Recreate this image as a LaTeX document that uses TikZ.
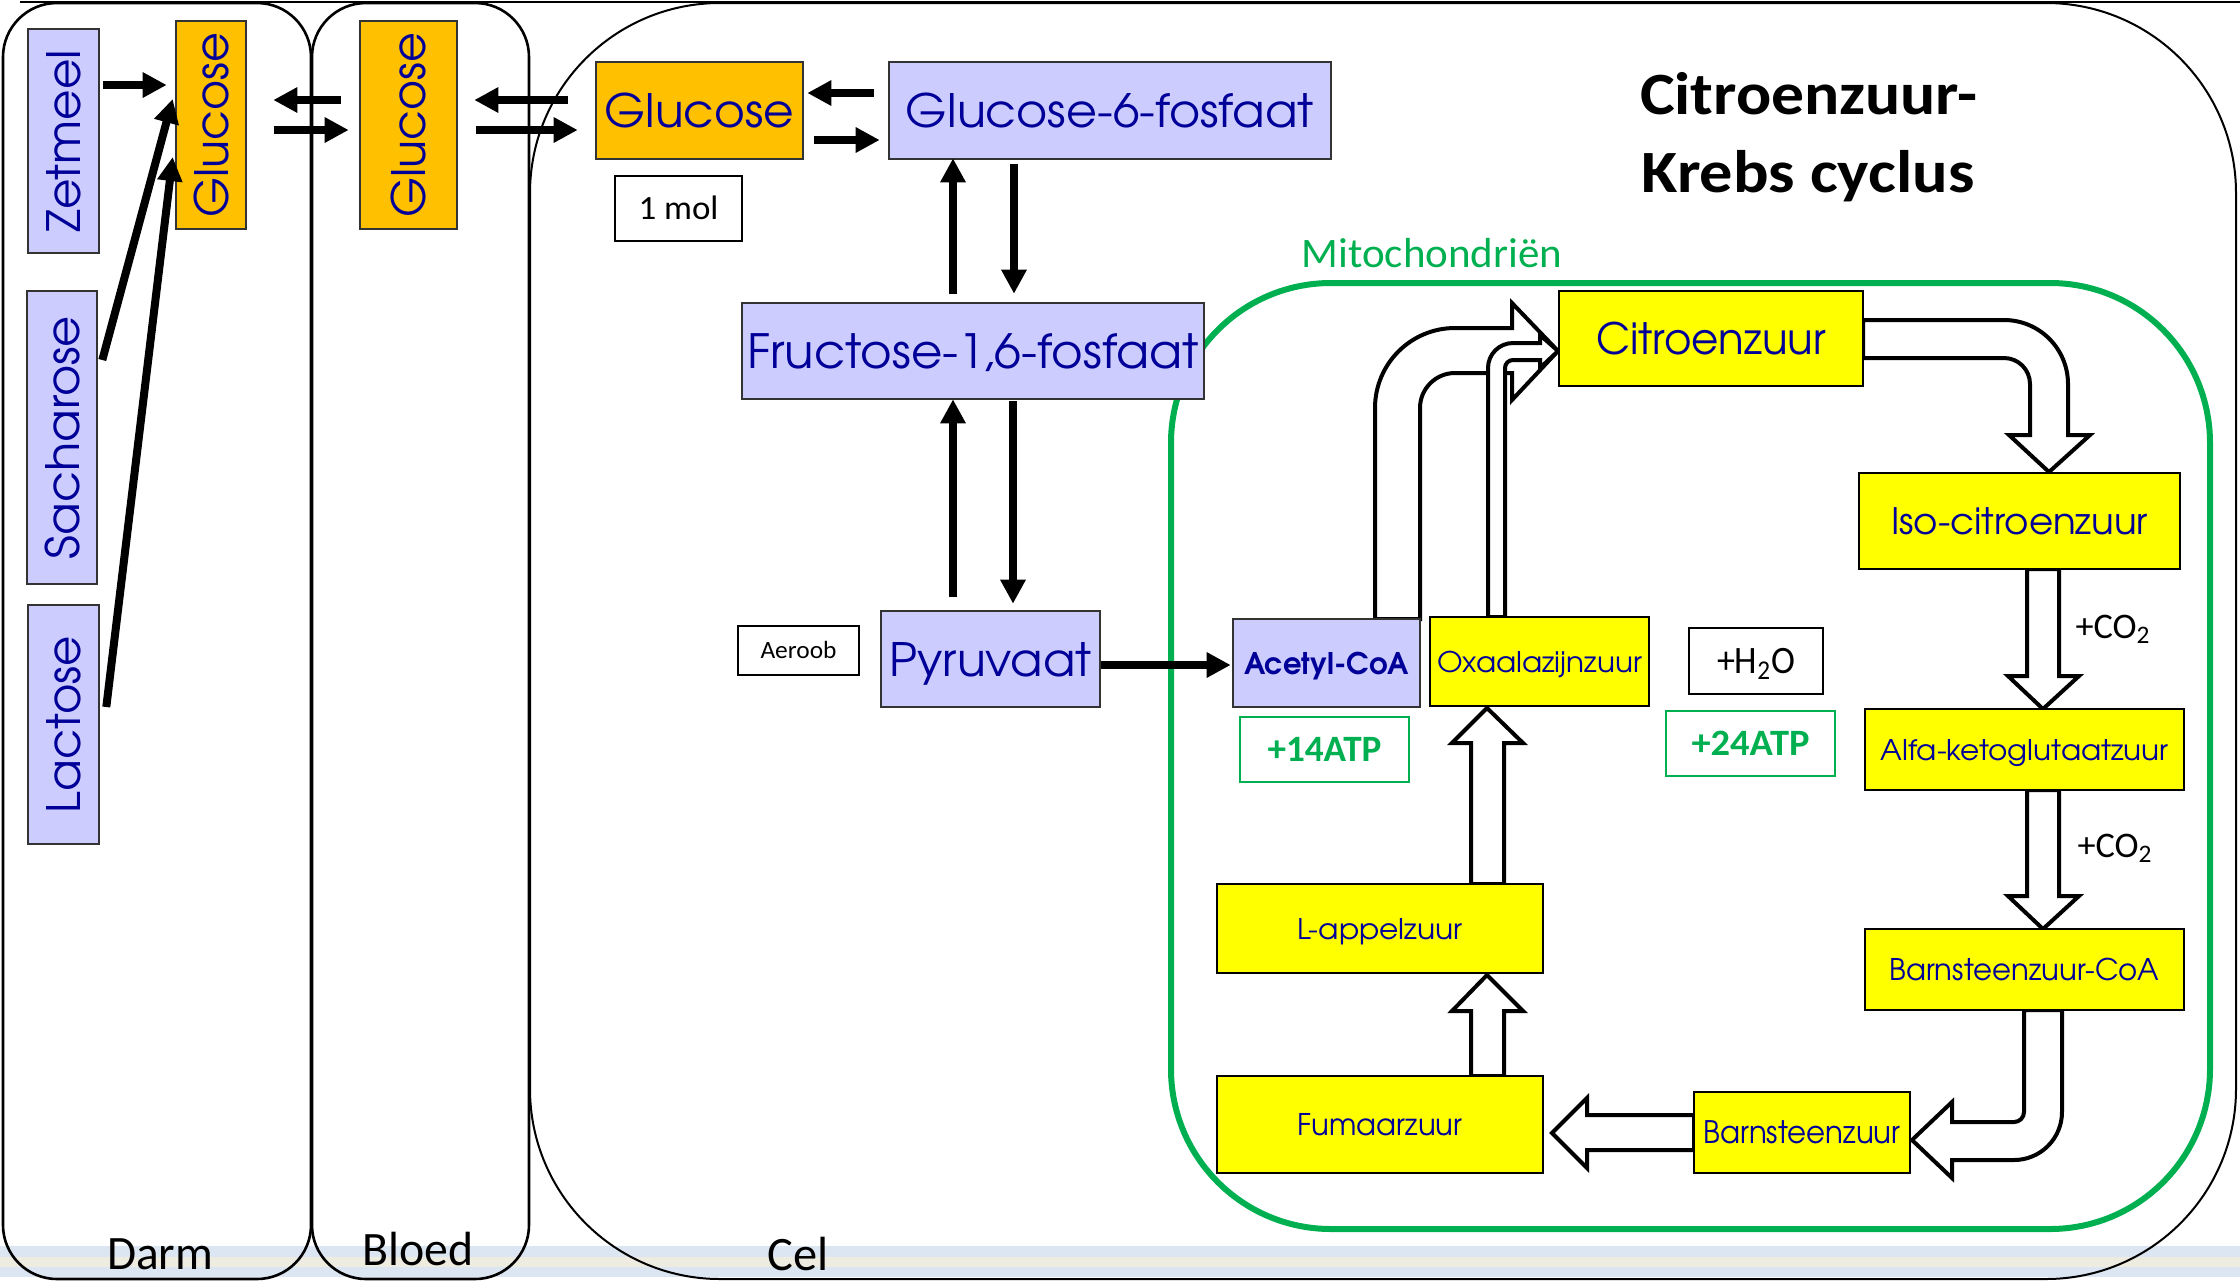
\documentclass[tikz,border=0pt]{standalone}
\usepackage{fontspec}
\usepackage{graphicx}
\setmainfont{Carlito}
\newfontfamily\gothic{texgyreadventor}[Extension=.otf, UprightFont=*-regular, BoldFont=*-bold]
\usetikzlibrary{arrows.meta}
\newlength{\px}
\setlength{\px}{0.5pt}
\definecolor{lav}{HTML}{CCCCFF}
\definecolor{org}{HTML}{FFC000}
\definecolor{yel}{HTML}{FFFF00}
\definecolor{grn}{HTML}{00B050}
\definecolor{navy}{HTML}{000099}
\definecolor{bandblue}{HTML}{DCE6F2}
\definecolor{bandbeige}{HTML}{EEECE1}
\newcommand{\fitw}[2]{\resizebox{#1\px}{\height}{#2}}
% gothic box: name, style, x1, y1, x2, y2, font size, text width, text
\newcommand{\bx}[9]{\node[#2, minimum width={(#5-#3)*0.5pt}, minimum height={(#6-#4)*0.5pt}, font={\fontsize{#7}{#7}\selectfont}, text height={#7*0.74pt}, text depth=0pt] (#1) at ({(#3+#5)/2},{(#4+#6)/2}) {\fitw{#8}{\gothic #9}};}
% rotated gothic box
\newcommand{\rbx}[9]{\node[#2, rotate=90, minimum width={(#6-#4)*0.5pt}, minimum height={(#5-#3)*0.5pt}, font={\fontsize{#7}{#7}\selectfont}, text height={#7*0.74pt}, text depth=0pt] (#1) at ({(#3+#5)/2},{(#4+#6)/2}) {\fitw{#8}{\gothic #9}};}
% carlito box
\newcommand{\cbx}[9]{\node[#2, minimum width={(#5-#3)*0.5pt}, minimum height={(#6-#4)*0.5pt}, font={\fontsize{#7}{#7}\selectfont}, text height={#7*0.644pt}, text depth=0pt] (#1) at ({(#3+#5)/2},{(#4+#6)/2}) {\fitw{#8}{#9}};}
\tikzset{
  lavbox/.style={draw=black!80, line width=1.3pt, fill=lav, text=navy, inner sep=0pt},
  orgbox/.style={draw=black!80, line width=1.3pt, fill=org, text=navy, inner sep=0pt},
  yelbox/.style={draw=black, line width=1.3pt, fill=yel, text=navy, inner sep=0pt},
  whitebox/.style={draw=black, line width=1.1pt, fill=white, text=black, inner sep=0pt},
  atpbox/.style={draw=grn, line width=1.1pt, fill=white, text=grn, inner sep=0pt},
  thk/.style={line width=4pt, -{Triangle[length=12pt,width=12pt]}},
  barrow/.style={draw=black, line width=2pt, fill=white, line join=miter},
  panel/.style={draw=black, line width=1.3pt},
  lbl/.style={anchor=base, inner sep=0pt}
}
\begin{document}
\begin{tikzpicture}[x=0.5pt, y=-0.5pt]
\useasboundingbox (0,0) rectangle (2240,1282);
% bottom bands
\fill[bandblue] (0,1246) rectangle (2240,1257);
\fill[bandbeige] (0,1257) rectangle (2240,1267);
\fill[bandblue] (0,1267) rectangle (2240,1277);
% top line
\draw[line width=0.8pt] (20,2) -- (2240,2);
% panels
\draw[panel, rounded corners=27pt] (3,3) rectangle (311,1279);
\draw[panel, rounded corners=27pt] (312,3) rectangle (529,1279);
\draw[line width=1pt, rounded corners=95pt] (530,3) rectangle (2236,1279);
% mitochondria
\draw[grn, line width=3pt, rounded corners=80pt] (1171,283) rectangle (2210,1229);
\node[lbl, text=grn, font={\fontsize{21}{21}\selectfont}] (mitolbl) at (1432,267) {\fitw{261}{Mitochondriën}};
% title
\node[lbl, font={\fontsize{30}{30}\selectfont\bfseries}] (title1) at (1809,114) {\fitw{338}{Citroenzuur-}};
\node[lbl, font={\fontsize{30}{30}\selectfont\bfseries}] (title2) at (1808,192) {\fitw{333}{Krebs cyclus}};
% block arrows
\draw[barrow] (1375,619) -- (1375,408) arc[start angle=180, end angle=270, radius=80] -- (1512,328) -- (1512,303) -- (1558,351) -- (1512,400) -- (1512,373) -- (1455,373) arc[start angle=270, end angle=180, radius=35] -- (1420,619) -- cycle;
\draw[barrow] (1488,617) -- (1488,368) arc[start angle=180, end angle=270, radius=25] -- (1540,343) -- (1540,335) -- (1558,351) -- (1540,368) -- (1540,360) -- (1513,360) arc[start angle=270, end angle=180, radius=8] -- (1505,617) -- cycle;
\draw[barrow] (1863,320) -- (2004,320) arc[start angle=270, end angle=360, radius=64] -- (2068,435) -- (2090,435) -- (2049,472) -- (2009,435) -- (2030,435) -- (2030,384) arc[start angle=0, end angle=-90, radius=26] -- (1863,358) -- cycle;
\draw[barrow] (2027,569) -- (2027,676) -- (2008,676) -- (2043,709) -- (2079,676) -- (2059,676) -- (2059,569) -- cycle;
\draw[barrow] (2027,790) -- (2027,896) -- (2008,896) -- (2043,929) -- (2079,896) -- (2059,896) -- (2059,790) -- cycle;
\draw[barrow] (2024,1010) -- (2024,1112) arc[start angle=0, end angle=90, radius=10] -- (1952,1122) -- (1952,1102) -- (1912,1140) -- (1952,1178) -- (1952,1160) -- (2014,1160) arc[start angle=90, end angle=0, radius=48] -- (2062,1010) -- cycle;
\draw[barrow] (1694,1115) -- (1587,1115) -- (1587,1098) -- (1552,1133) -- (1587,1168) -- (1587,1150) -- (1694,1150) -- cycle;
\draw[barrow] (1471,1076) -- (1471,1011) -- (1452,1011) -- (1487,975) -- (1523,1011) -- (1504,1011) -- (1504,1076) -- cycle;
\draw[barrow] (1471,884) -- (1471,743) -- (1452,743) -- (1487,708) -- (1523,743) -- (1504,743) -- (1504,884) -- cycle;
% left column
\rbx{zet}{lavbox}{28}{29}{99}{253}{23}{182}{Zetmeel}
\rbx{sac}{lavbox}{27}{291}{97}{584}{23}{243}{Sacharose}
\rbx{lac}{lavbox}{28}{605}{99}{844}{23}{177}{Lactose}
\rbx{gd}{orgbox}{176}{21}{246}{229}{23}{185}{Glucose}
\rbx{gb}{orgbox}{360}{21}{457}{229}{23}{185}{Glucose}
% cel boxes
\bx{gc}{orgbox}{596}{62}{803}{159}{23}{189}{Glucose}
\bx{g6f}{lavbox}{889}{62}{1331}{159}{23}{408}{Glucose-6-fosfaat}
\bx{f16}{lavbox}{742}{303}{1204}{399}{23.6}{451}{Fructose-1,6-fosfaat}
\bx{pyr}{lavbox}{881}{611}{1100}{707}{23}{202}{Pyruvaat}
\bx{ace}{lavbox}{1233}{619}{1420}{707}{14.9}{165}{\bfseries Acetyl-CoA}
\bx{oxa}{yelbox}{1430}{617}{1649}{706}{14.2}{205}{Oxaalazijnzuur}
\bx{cit}{yelbox}{1559}{291}{1863}{386}{21.6}{230}{Citroenzuur}
\bx{iso}{yelbox}{1859}{473}{2180}{569}{18.2}{257}{Iso-citroenzuur}
\bx{alf}{yelbox}{1865}{709}{2184}{790}{14.2}{288}{Alfa-ketoglutaatzuur}
\bx{bco}{yelbox}{1865}{929}{2184}{1010}{14.9}{270}{Barnsteenzuur-CoA}
\bx{bar}{yelbox}{1694}{1092}{1910}{1173}{15.5}{197}{Barnsteenzuur}
\bx{fum}{yelbox}{1217}{1076}{1543}{1173}{14.9}{165}{Fumaarzuur}
\bx{lap}{yelbox}{1217}{884}{1543}{973}{14.2}{165}{L-appelzuur}
\cbx{mol}{whitebox}{615}{176}{742}{241}{17}{80}{1 mol}
\cbx{aer}{whitebox}{738}{626}{859}{675}{12.4}{76}{Aeroob}
\cbx{h2o}{whitebox}{1689}{628}{1823}{694}{19.4}{78}{+H\textsubscript{2}O}
\cbx{a14}{atpbox}{1240}{717}{1409}{782}{18.6}{114}{\bfseries +14ATP}
\cbx{a24}{atpbox}{1666}{711}{1835}{776}{18.6}{118}{\bfseries +24ATP}
% CO2 labels
\node[lbl, font={\fontsize{18}{18}\selectfont}] (co2a) at (2113,638) {\fitw{75}{+CO\textsubscript{2}}};
\node[lbl, font={\fontsize{18}{18}\selectfont}] (co2b) at (2115,857) {\fitw{75}{+CO\textsubscript{2}}};
% thick arrows
\draw[thk] ([shift={(3,-56)}]zet.south) -- ([shift={(-8,-40)}]gd.north);
\draw[thk] ([shift={(4,-77.5)}]sac.south) -- ([shift={(-2,-26)}]gd.north);
\draw[thk] ([shift={(6,-17.5)}]lac.south) -- ([shift={(-2,32)}]gd.north);
\draw[thk] ([shift={(-18,-25)}]gb.north) -- ([shift={(26,-25)}]gd.south);
\draw[thk] ([shift={(27,5)}]gd.south) -- ([shift={(-10,5)}]gb.north);
\draw[thk] ([shift={(-27,-10.5)}]gc.west) -- ([shift={(16,-25)}]gb.south);
\draw[thk] ([shift={(18,5)}]gb.south) -- ([shift={(-17,19.5)}]gc.west);
\draw[thk] ([shift={(-14,-17.5)}]g6f.west) -- ([shift={(3,-17.5)}]gc.east);
\draw[thk] ([shift={(10,29.5)}]gc.east) -- ([shift={(-8,29.5)}]g6f.west);
\draw[thk] ([shift={(-20,-8)}]f16.north) -- ([shift={(-157,-2)}]g6f.south);
\draw[thk] ([shift={(-96,4)}]g6f.south) -- ([shift={(41,-8)}]f16.north);
\draw[thk] ([shift={(-37.5,-13)}]pyr.north) -- ([shift={(-20,-1)}]f16.south);
\draw[thk] ([shift={(40,1)}]f16.south) -- ([shift={(22.5,-6)}]pyr.north);
\draw[thk] ([shift={(0,6)}]pyr.east) -- ([shift={(-1,2)}]ace.west);
% bottom labels
\node[lbl, font={\fontsize{24}{24}\selectfont}] (darm) at (160,1269) {\fitw{106}{Darm}};
\node[lbl, font={\fontsize{24}{24}\selectfont}] (bloed) at (418,1265) {\fitw{111}{Bloed}};
\node[lbl, font={\fontsize{24}{24}\selectfont}] (cel) at (798,1270) {\fitw{61}{Cel}};
\end{tikzpicture}
\end{document}
